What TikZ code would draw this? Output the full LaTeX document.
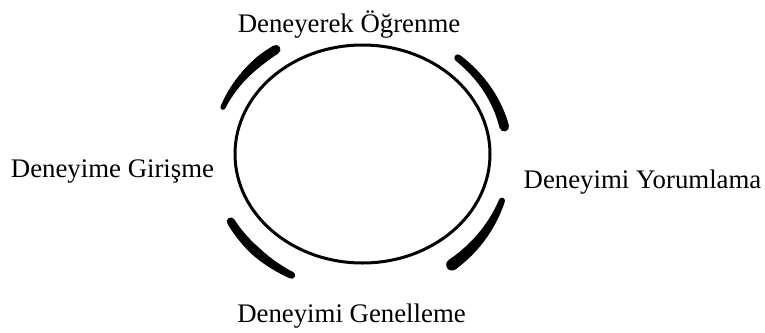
\documentclass[tikz,border=0pt]{standalone}
\usepackage{fontspec}
\setmainfont{Liberation Serif}
\usetikzlibrary{calc,shapes.geometric}

% tapered elliptical stroke around (ac): radii a,b, angles t0->t1, widths w0->w1
\newcommand\taperarc[6]{%
  \foreach \i in {0,...,19}{%
    \pgfmathsetmacro\ta{#3+(#4-#3)*\i/20}%
    \pgfmathsetmacro\tb{#3+(#4-#3)*(\i+1)/20}%
    \pgfmathsetmacro\wd{#5+(#6-#5)*(\i+0.5)/20}%
    \draw[line width=\wd pt, line cap=round]
      ($(ac)+(\ta:#1 and #2)$) arc[start angle=\ta, end angle=\tb, x radius=#1, y radius=#2];
  }%
}

\begin{document}
\begin{tikzpicture}[x=1pt,y=1pt,
  label text/.style={anchor=base, inner sep=0pt, font=\fontsize{26.8}{30}\selectfont}]
\useasboundingbox (0,0) rectangle (765,-332);

% central cycle
\node[draw, ellipse, line width=3pt, inner sep=0pt,
      minimum width=255, minimum height=218] (cycle) at (362.5,-154) {};

% outer tapered arcs
\coordinate (ac) at (362,-156);
\taperarc{150}{130}{158}{133}{5}{9.5}
\taperarc{150}{130}{133}{125}{9.5}{9}
\taperarc{146}{130}{49}{28}{7}{8.5}
\taperarc{146}{130}{28}{13}{8.5}{9.5}
\taperarc{150}{135}{209}{225}{8}{9.5}
\taperarc{150}{135}{225}{242}{9.5}{7}
\taperarc{148}{137}{-19}{-40}{6}{10}
\taperarc{148}{137}{-40}{-52.6}{10}{11.5}

% stage labels
\node[label text] (top) at (349,-32) {Deneyerek Öğrenme};
\node[label text] (left) at (112.5,-177) {Deneyime Girişme};
\node[label text] (right) at (642.5,-188) {Deneyimi Yorumlama};
\node[label text] (bottom) at (351.5,-322) {Deneyimi Genelleme};
\end{tikzpicture}
\end{document}
